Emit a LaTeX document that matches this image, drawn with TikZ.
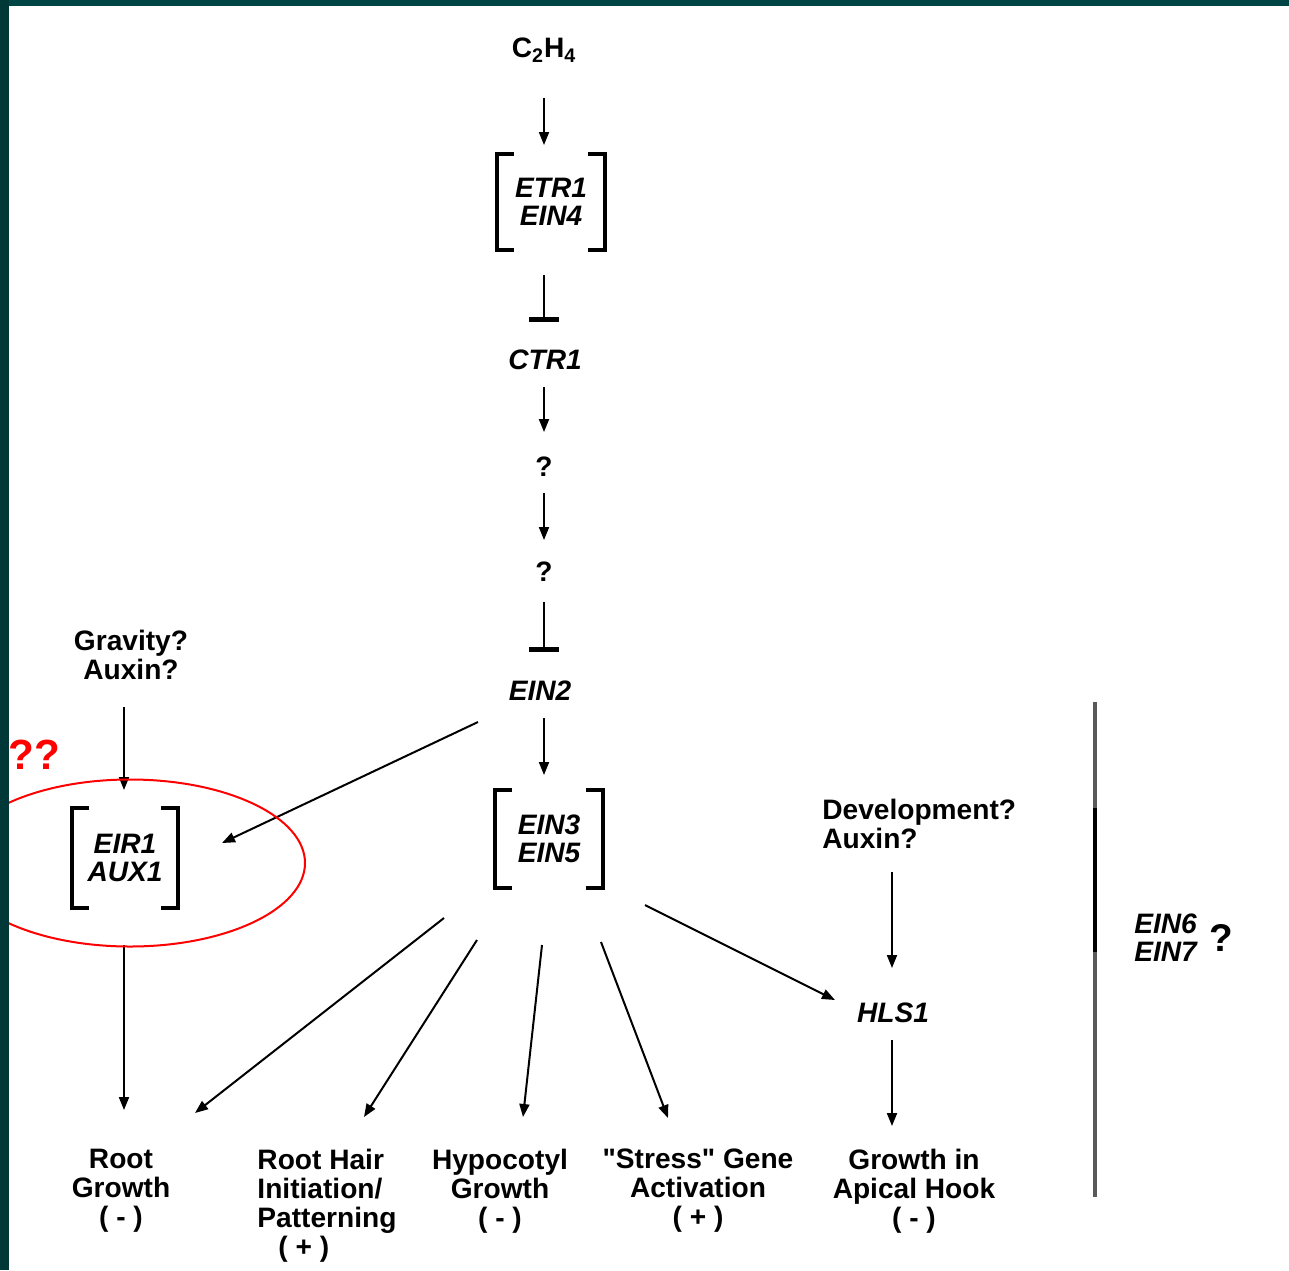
\documentclass[tikz,border=0pt]{standalone}
\usepackage{fontspec}
\setmainfont{Liberation Sans}[Ligatures=TeXOff]
\usetikzlibrary{arrows.meta,positioning,calc}

\definecolor{slideteal}{HTML}{004545}

% square brackets round a complex node
\newcommand\cplxbrackets[1]{%
  \draw[brk] ([xshift=3.4mm]#1.north west) -| (#1.south west) -- ++(3.4mm,0);
  \draw[brk] ([xshift=-3.4mm]#1.north east) -| (#1.south east) -- ++(-3.4mm,0);}

\begin{document}
\begin{tikzpicture}[
    x=0.2mm, y=-0.2mm,
    lbl/.style={font=\fontsize{16}{16.5}\selectfont\bfseries, align=center, inner sep=0pt},
    gene/.style={lbl, font=\fontsize{16}{16}\selectfont\bfseries\itshape},
    cplx/.style={gene, minimum width=21.4mm},
    brk/.style={line width=0.8mm},
    act/.style={-{Triangle[length=2.6mm,width=2mm]}, line width=0.4mm},
    inh/.style={-{Bar[width=6mm,line width=1mm]}, line width=0.4mm}
  ]
    \useasboundingbox (0,0) rectangle (1289,1270);
    \fill[white] (0,0) rectangle (1289,1270);

    % Signal chain
    \node[lbl] (eth) at (544,50) {C\textsubscript{2}H\textsubscript{4}};
    \node[cplx, minimum height=19mm] (etr) at (551,202) {ETR1\\EIN4};
    \node[gene] (ctr) at (545,360) {CTR1};
    \node[lbl] (q1) at (544,467) {?};
    \node[lbl] (q2) at (544,572) {?};
    \node[gene] (ein2) at (540,691) {EIN2};
    \node[cplx, minimum height=19.6mm] (ein3) at (549,839) {EIN3\\EIN5};

    % Root branch
    \node[lbl] (grav) at (131,655) {Gravity?\\Auxin?};
    \node[cplx, minimum height=20mm, minimum width=21.2mm] (eir) at (125,858) {EIR1\\AUX1};

    % Hook branch
    \node[lbl, align=left, anchor=west] (dev) at (822,824) {Development?\\Auxin?};
    \node[gene] (hls) at (893,1013) {HLS1};

    % Responses
    \node[lbl] (root) at (121,1191) {Root\\Growth\\( - )};
    \node[lbl, align=left] (hair) at (327,1206) {Root Hair\\Initiation/\\Patterning\\\hspace*{4.2mm}( + )};
    \node[lbl] (hypo) at (500,1191) {Hypocotyl\\Growth\\( - )};
    \node[lbl] (stress) at (698,1191) {"Stress" Gene\\Activation\\( + )};
    \node[lbl] (hook) at (914,1191) {Growth in\\Apical Hook\\( - )};

    % EIN6 / EIN7
    \node[gene, align=left, anchor=west] (ein67) at (1134,938) {EIN6\\EIN7};
    \node[lbl, font=\fontsize{22}{22}\selectfont\bfseries] (q3) at (1221,938) {?};
    \draw[black!65, line width=0.7mm] (1095,702) -- (1095,1197);
    \draw[black, line width=0.7mm] (1095,808) -- (1095,952);

    % Brackets
    \cplxbrackets{etr}
    \cplxbrackets{ein3}
    \cplxbrackets{eir}

    % Arrows
    \draw[act] ($(eth)+(0,48)$) -- ($(etr)+(-7,-57)$);
    \draw[inh] ($(etr)+(-7,73)$) -- ($(ctr)+(-1,-38)$);
    \draw[act] ($(ctr)+(-1,27)$) -- ($(q1)+(0,-35)$);
    \draw[act] ($(q1)+(0,26)$) -- ($(q2)+(0,-32)$);
    \draw[inh] ($(q2)+(0,30)$) -- ($(ein2)+(4,-39)$);
    \draw[act] ($(ein2)+(4,27)$) -- ($(ein3)+(-5,-64)$);
    \draw[act] ($(ein2)+(-62,31)$) -- ($(eir)+(97,-15)$);
    \draw[act] ($(grav)+(-7,52)$) -- ($(eir)+(-1,-68)$);
    \draw[act] ($(eir)+(-1,87)$) -- ($(root)+(3,-81)$);
    \draw[act] ($(ein3)+(-105,79)$) -- ($(root)+(74,-78)$);
    \draw[act] ($(ein3)+(-72,101)$) -- ($(hair)+(37,-89)$);
    \draw[act] ($(ein3)+(-7,106)$) -- ($(hypo)+(23,-74)$);
    \draw[act] ($(ein3)+(52,103)$) -- ($(stress)+(-30,-73)$);
    \draw[act] ($(ein3)+(96,66)$) -- ($(hls)+(-58,-13)$);
    \draw[act] ($(dev.west)+(70,48)$) -- ($(hls)+(-1,-45)$);
    \draw[act] ($(hls)+(-1,27)$) -- ($(hook)+(-22,-65)$);

    % Annotation
    \node[lbl, text=red, font=\fontsize{24}{24}\selectfont\bfseries] (mark) at (34,755) {??};
    \draw[red, line width=0.4mm] (130,863) ellipse [x radius=35mm, y radius=16.7mm];

    % Slide frame
    \fill[slideteal] (0,0) rectangle (1289,6);
    \fill[slideteal!80!black] (0,0) rectangle (9,1270);
  \end{tikzpicture}
\end{document}
